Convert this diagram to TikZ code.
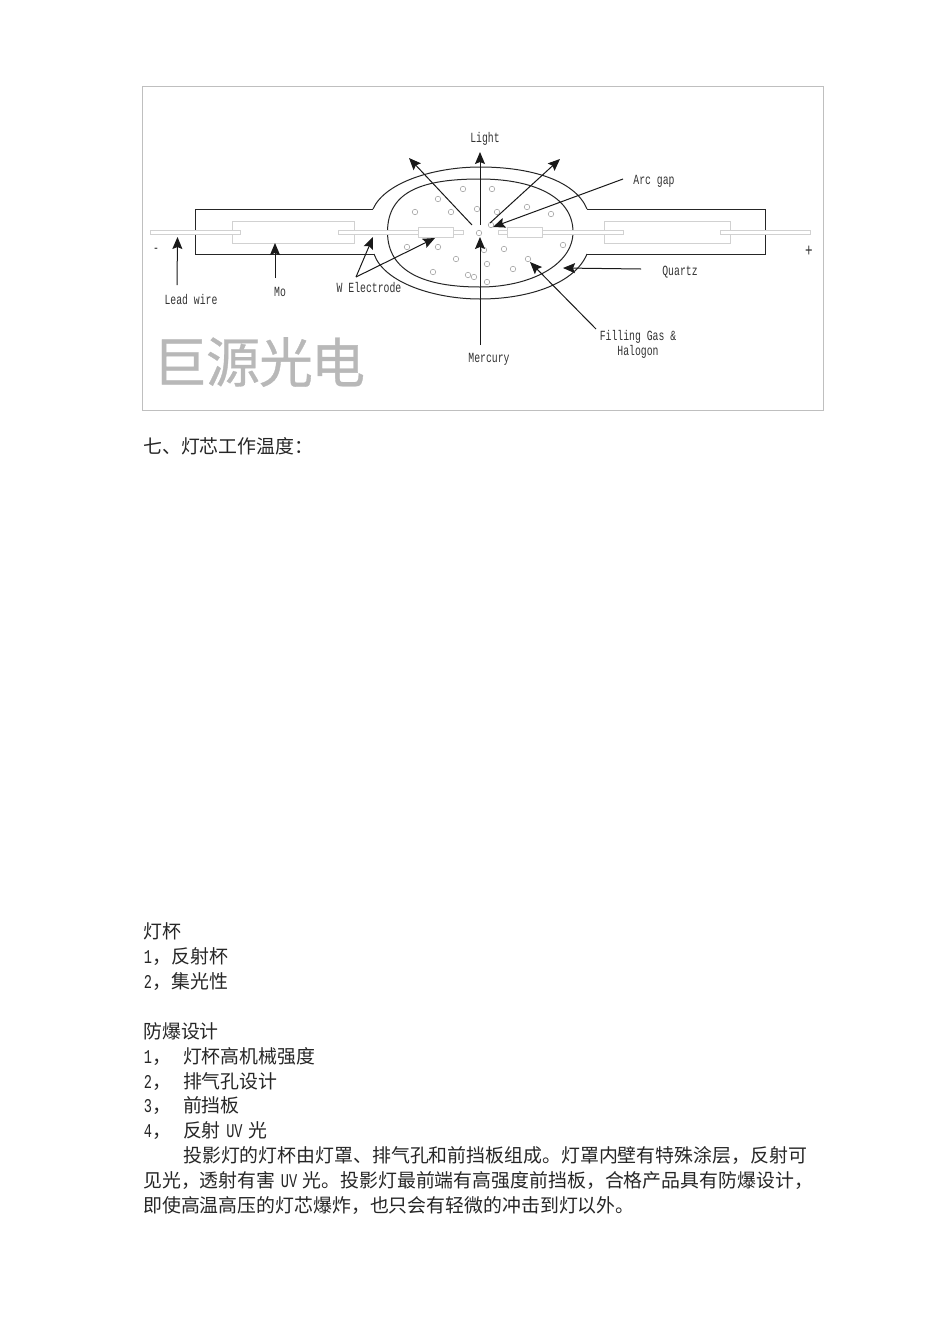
\documentclass[tikz,border=0pt]{standalone}
\usepackage{fontspec}
\usetikzlibrary{arrows.meta}
\setmainfont{Liberation Serif}
\newfontfamily\cjkf{Noto Sans CJK SC}
\newfontfamily\cjkbold[FakeBold=0.6]{Noto Sans CJK SC}
\newfontfamily\narrowf[FakeStretch=0.70]{Liberation Mono}
\definecolor{partgray}{gray}{0.82}
\definecolor{framegray}{gray}{0.75}
\definecolor{wmgray}{gray}{0.72}
\tikzset{
 x=1pt,y=-1pt,
 outline/.style={draw=black!85,line width=1pt},
 part/.style={draw=partgray,line width=0.8pt,fill=white},
 pointer/.style={draw=black!90,line width=1pt,-{Stealth[length=12pt,width=10pt,inset=2pt]}},
 bubble/.style={circle,draw=black!35,line width=0.6pt,minimum size=5.5pt,inner sep=0pt},
 lbl/.style={inner sep=0pt,font=\narrowf\fontsize{14}{15}\selectfont,text=black!80,align=center},
 wm/.style={inner sep=0pt,font=\cjkbold\fontsize{54}{54}\selectfont,text=wmgray},
 body/.style={anchor=base west,inner sep=0pt,font=\cjkf\fontsize{18.9}{19}\selectfont,text=black!85},
}
\newcommand{\la}[1]{\hspace{0.65pt}{\narrowf\fontsize{19.5}{20}\selectfont #1}\hspace{0.65pt}}
\newcommand{\sep}{\hspace{4.75pt}}
\newcommand{\fc}{\char"FF0C\relax}
\newcommand{\fk}{\char"FF1A\relax}
\begin{document}
\begin{tikzpicture}
\useasboundingbox (0,0) rectangle (950,1344);
\fill[white] (0,0) rectangle (950,1344);
\node[draw=framegray,line width=0.8pt,minimum width=681pt,minimum height=324pt,inner sep=0pt] (frame) at (482.5,248) {};
% envelope
\draw[outline] (373,209) -- (195,209) -- (195,254) -- (374,254);
\draw[outline] (587,209) -- (765,209) -- (765,254) -- (587,254);
\draw[outline] (373,209) .. controls (385,182) and (435,167) .. (480,167) .. controls (530,167) and (575,180) .. (587,209);
\draw[outline] (374,254) .. controls (384,283) and (435,299) .. (480,299) .. controls (530,299) and (575,283) .. (587,254);
\draw[outline] (387.5,232) .. controls (387.5,190) and (425,179) .. (480,179) .. controls (530,179) and (573,195) .. (573,232) .. controls (573,265) and (530,287) .. (480,287) .. controls (425,287) and (387.5,272) .. (387.5,232) -- cycle;
% parts
\draw[part] (232,221) rectangle (354,243);
\draw[part] (604,221) rectangle (730,243);
\draw[part] (150,230) rectangle (240,234);
\draw[part] (338,230) rectangle (463,234);
\draw[part] (498,230) rectangle (623,234);
\draw[part] (720,230) rectangle (810,234);
\draw[part] (418,227) rectangle (453,237);
\draw[part] (507,227) rectangle (542,237);
% bubbles
\foreach \p [count=\i] in {{463,189},{492,189},{438,199},{415,212},{451,212},{477,209},{497,212},{527,207},{551,214},{491,225},{479,233},{407,247},{438,247},{484,250},{504,249},{563,245},{456,259},{487,264},{528,259},{513,269},{433,272},{468,275},{474,277},{487,282}}
  \node[bubble] (b\i) at (\p) {};
% labels
\node[lbl] (light) at (485,139) {Light};
\node[lbl] (arc) at (654,181) {Arc gap};
\node[lbl] (quartz) at (680,272) {Quartz};
\node[lbl] (filling) at (638,344) {Filling Gas \&\\Halogon};
\node[lbl] (mercury) at (489,359) {Mercury};
\node[lbl] (wel) at (369,288) {W Electrode};
\node[lbl] (mo) at (280,292) {Mo};
\node[lbl] (lead) at (191,300) {Lead wire};
\node[lbl] (minus) at (156,250) {-};
\node[lbl,font=\narrowf\fontsize{18}{18}\selectfont] (plus) at (809,251) {+};
% pointers
\coordinate (lw) at (177,285); \coordinate (lwt) at (177.5,237);
\draw[pointer] (lw) -- (lwt);
\coordinate (mos) at (275,278); \coordinate (mot) at (275,243);
\draw[pointer] (mos) -- (mot);
\coordinate (we) at (356,277); \coordinate (we1) at (373,237); \coordinate (we2) at (435,238);
\draw[pointer] (we) -- (we1);
\draw[pointer] (we) -- (we2);
\coordinate (ls) at (480,225); \coordinate (lt) at (480,152);
\draw[pointer] (ls) -- (lt);
\coordinate (lls) at (472,225); \coordinate (llt) at (409,158);
\draw[pointer] (lls) -- (llt);
\coordinate (lrs) at (490,223); \coordinate (lrt) at (560,159);
\draw[pointer] (lrs) -- (lrt);
\coordinate (as) at (623,179); \coordinate (at) at (493,227);
\draw[pointer] (as) -- (at);
\coordinate (qs) at (641,269); \coordinate (qt) at (563,268);
\draw[pointer] (qs) -- (qt);
\coordinate (fs) at (596,329); \coordinate (ft) at (530,262);
\draw[pointer] (fs) -- (ft);
\coordinate (ms) at (480,345); \coordinate (mt) at (480,237);
\draw[pointer] (ms) -- (mt);
% watermark
\node[wm] (w1) at (180,362) {巨};
\node[wm] (w2) at (233,362) {源};
\node[wm] (w3) at (286,362) {光};
\node[wm] (w4) at (338,362) {电};
% body
\node[body] (t1) at (143,453) {七、灯芯工作温度\fk};
\node[body] (t2) at (143,938.5) {灯杯};
\node[body] (t3) at (143,963) {\la{1}\fc 反射杯};
\node[body] (t4) at (143,988) {\la{2}\fc 集光性};
\node[body] (t5) at (143,1038) {防爆设计};
\node[body] (t6) at (143,1063) {\la{1}\fc\hspace{11.5pt}灯杯高机械强度};
\node[body] (t7) at (143,1088) {\la{2}\fc\hspace{11.5pt}排气孔设计};
\node[body] (t8) at (143,1112.5) {\la{3}\fc\hspace{11.5pt}前挡板};
\node[body] (t9) at (143,1137.5) {\la{4}\fc\hspace{11.5pt}反射\sep\la{UV}\sep 光};
\node[body] (t10) at (183,1162) {投影灯的灯杯由灯罩、排气孔和前挡板组成。灯罩内壁有特殊涂层\fc 反射可};
\node[body] (t11) at (143,1187) {见光\fc 透射有害\sep\la{UV}\sep 光。投影灯最前端有高强度前挡板\fc 合格产品具有防爆设计\fc};
\node[body] (t12) at (143,1212) {即使高温高压的灯芯爆炸\fc 也只会有轻微的冲击到灯以外。};
\end{tikzpicture}
\end{document}
